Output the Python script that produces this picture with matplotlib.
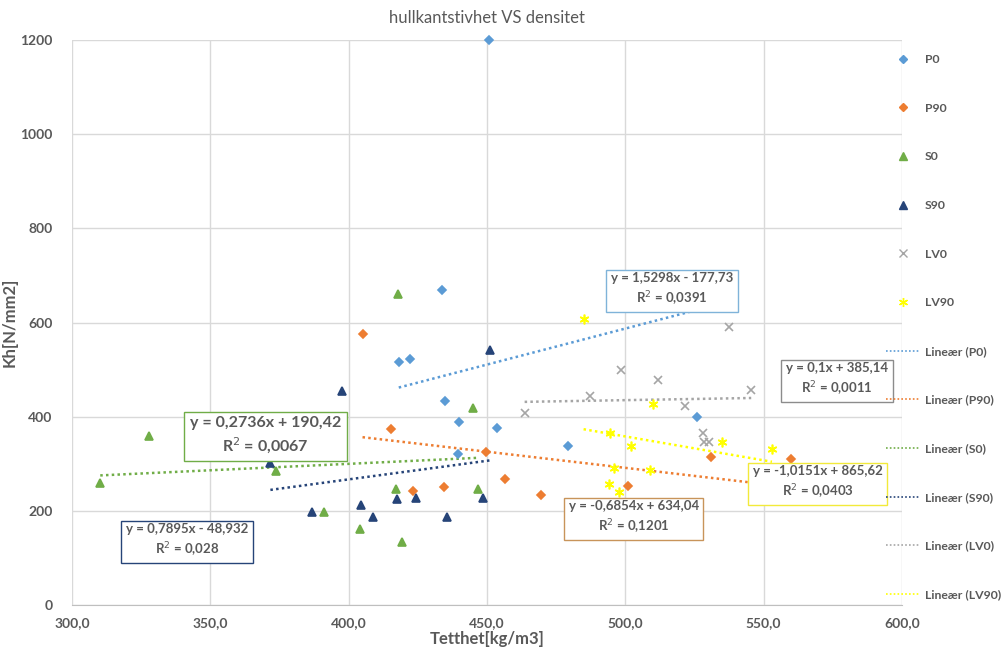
import numpy as np
import matplotlib.pyplot as plt
from matplotlib.lines import Line2D

# Tetthet [kg/m3] og hullkantstivhet Kh [N/mm2] per serie
p0_x = [450.9, 433.9, 418.1, 422.1, 434.7, 439.8, 453.7, 439.5, 479.3, 526.0]
p0_y = [1200, 669, 517, 523, 433, 389, 377, 320, 337, 399]

p90_x = [405.0, 415.3, 449.7, 423.2, 434.5, 456.6, 469.6, 501.1, 531.0, 559.9]
p90_y = [575, 373, 326, 243, 251, 268, 233, 253, 314, 311]

s0_x = [310.2, 327.7, 373.8, 391.2, 417.7, 444.8, 417.0, 446.8, 404.0, 419.1]
s0_y = [259, 358, 285, 197, 661, 418, 247, 247, 162, 133]

s90_x = [371.7, 386.6, 397.6, 451.2, 404.4, 408.9, 417.4, 424.3, 435.7, 448.6]
s90_y = [301, 198, 455, 541, 212, 188, 225, 228, 188, 228]

lv0_x = [463.6, 487.1, 498.6, 511.7, 537.3, 521.7, 528.0, 528.5, 530.4, 545.5]
lv0_y = [407, 444, 499, 478, 590, 422, 365, 347, 346, 457]

lv90_x = [484.9, 509.9, 494.5, 502.2, 534.9, 553.0, 495.9, 508.9, 494.1, 497.7]
lv90_y = [607, 426, 366, 338, 346, 331, 292, 287, 258, 241]

# Lineære trendlinjer: stigning, konstant, R2
trend_a = [1.5298, -0.6854, 0.2736, 0.7895, 0.1, -1.0151]
trend_b = [-177.73, 634.04, 190.42, -48.932, 385.14, 865.62]
trend_r2 = ["0,0391", "0,1201", "0,0067", "0,028", "0,0011", "0,0403"]

names = ["P0", "P90", "S0", "S90", "LV0", "LV90"]
colors = ["#5B9BD5", "#ED7D31", "#70AD47", "#264478", "#A5A5A5", "#FFFF00"]
box_edges = ["#7FB3D9", "#C8945A", "#70AD47", "#264478", "#8C8C8C", "#F2EA3A"]
markers = ["D", "D", "^", "^", "x", (6, 2, 0)]
msizes = [4.5, 4.5, 6, 6, 6, 7]

# plassering av likningsboksene (data-koordinater) og fontstorrelse
box_x = [516.8, 503.0, 369.9, 341.6, 576.5, 569.6]
box_y = [669, 185, 359, 136, 478, 259]
box_fs = [9.5, 9.5, 11.5, 9.5, 9.5, 9.5]

xs = [p0_x, p90_x, s0_x, s90_x, lv0_x, lv90_x]
ys = [p0_y, p90_y, s0_y, s90_y, lv0_y, lv90_y]

txt = "#595959"
plt.rcParams['font.family'] = ['Lato', 'DejaVu Sans']

fig = plt.figure(figsize=(10.06, 6.55), dpi=100)
ax = fig.add_axes([0.0716, 0.0763, 0.8250, 0.8626])

for i in range(6):
    ax.plot(xs[i], ys[i], linestyle="none", marker=markers[i], ms=msizes[i],
            color=colors[i], mec=colors[i], mew=1.2, zorder=3, clip_on=False)

for i in range(6):
    x = np.array([min(xs[i]), max(xs[i])])
    ax.plot(x, trend_a[i]*x + trend_b[i], linestyle=(0, (1, 1.3)), lw=1.8,
            color=colors[i], zorder=2)

for i in range(6):
    a = trend_a[i]
    b = trend_b[i]
    a_s = ("%g" % a).replace(".", ",")
    sign = "+" if b >= 0 else "-"
    b_s = ("%g" % abs(b)).replace(".", ",")
    label = "y = %sx %s %s\nR$^2$ = %s" % (a_s, sign, b_s, trend_r2[i])
    ax.text(box_x[i], box_y[i], label, ha="center", va="center",
            fontsize=box_fs[i], fontweight="bold", color=txt,
            linespacing=1.35, zorder=5,
            bbox=dict(boxstyle="square,pad=0.35", fc="white", ec=box_edges[i], lw=1))

ax.set_xlim(300, 600)
ax.set_ylim(0, 1200)
ax.set_xticks(np.arange(300, 601, 50))
ax.set_xticklabels(["%d,0" % v for v in range(300, 601, 50)])
ax.set_yticks(np.arange(0, 1201, 200))
ax.grid(True, color="#D9D9D9", lw=1)
ax.set_axisbelow(True)
for s in ["top", "right", "left"]:
    ax.spines[s].set_visible(False)
ax.spines["bottom"].set_color("#BFBFBF")
ax.tick_params(axis="x", length=0, labelsize=10, labelcolor=txt, pad=9)
ax.tick_params(axis="y", length=0, labelsize=10, labelcolor=txt, pad=14)
for lab in ax.get_xticklabels() + ax.get_yticklabels():
    lab.set_fontweight("bold")

ax.set_title("hullkantstivhet VS densitet", fontsize=12, color=txt, pad=12)
ax.set_xlabel("Tetthet[kg/m3]", fontsize=12, fontweight="bold", color=txt, labelpad=1)
ax.set_ylabel("Kh[N/mm2]", fontsize=12, fontweight="bold", color=txt)
ax.yaxis.set_label_coords(-0.065, 0.5)

handles = []
for i in range(6):
    handles.append(Line2D([], [], linestyle="none", marker=markers[i], ms=msizes[i] - 0.5,
                          color=colors[i], mec=colors[i]))
for i in range(6):
    handles.append(Line2D([], [], linestyle=(0, (1, 1.3)), lw=1.2, color=colors[i]))
labels = names + ["Lineær (%s)" % n for n in names]

leg = fig.legend(handles, labels, loc="upper left", bbox_to_anchor=(886/1006, 1 - 54/655),
                 frameon=False, fontsize=8.8, handlelength=2.75, handletextpad=0.45,
                 labelspacing=3.08, borderpad=0, borderaxespad=0)
for t in leg.get_texts():
    t.set_color(txt)
    t.set_fontweight("bold")

fig.savefig("out.png", dpi=100)
